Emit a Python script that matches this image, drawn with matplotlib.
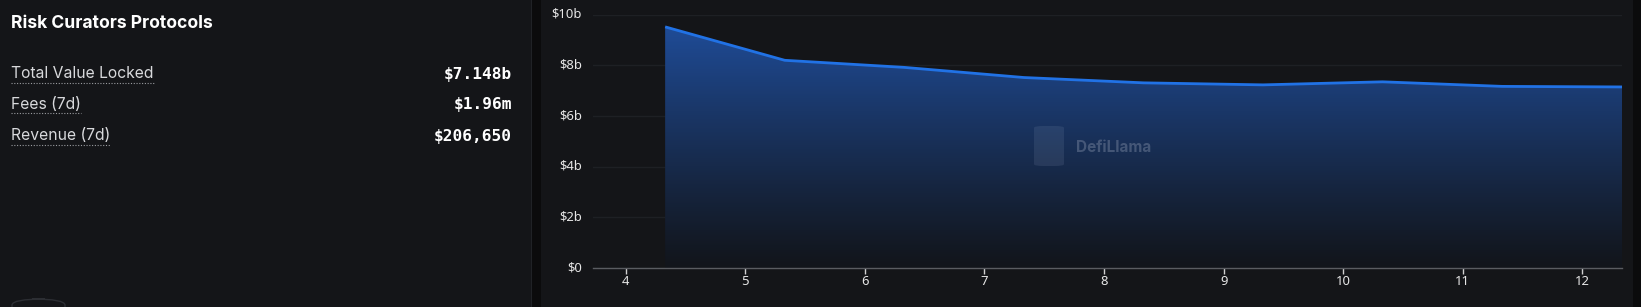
import numpy as np
import matplotlib.pyplot as plt
import matplotlib.transforms as mtransforms
from matplotlib.patches import FancyBboxPatch, Rectangle, Polygon
from matplotlib.ticker import FuncFormatter

# Data (TVL in billions)
days = [4.33, 5.33, 6.33, 7.33, 8.33, 9.33, 10.33, 11.33, 12.335]
tvl = [9.52, 8.20, 7.92, 7.52, 7.31, 7.23, 7.35, 7.17, 7.148]
x_ticks = [4, 5, 6, 7, 8, 9, 10, 11, 12]
y_ticks = [0, 2, 4, 6, 8, 10]

title = "Risk Curators Protocols"
stat_labels = ["Total Value Locked", "Fees (7d)", "Revenue (7d)"]
stat_values = ["$7.148b", "$1.96m", "$206,650"]

W, H = 1641, 307
BG = "#141518"
GAP = "#0b0b0c"
LINE = "#2172e5"

fig = plt.figure(figsize=(W / 100, H / 100), dpi=100)
fig.patch.set_facecolor(GAP)

# panel backgrounds (behind the axes)
for x0, x1, c in [(0, 532, BG), (541, 1633, BG), (531, 532, "#202226")]:
    fig.patches.append(Rectangle((x0 / W, 0), (x1 - x0) / W, 1, transform=fig.transFigure,
                                 facecolor=c, edgecolor="none", zorder=-2))
# button outline bottom-left
fig.patches.append(FancyBboxPatch((12 / W, -10 / H), 53 / W, 18 / H,
                                  boxstyle="round,pad=0,rounding_size=0.02",
                                  transform=fig.transFigure, facecolor="none",
                                  edgecolor="#2c2e33", linewidth=1, zorder=-1))

# left panel text
def fy(px):
    return 1 - px / H

fig.text(11 / W, fy(24), title, color="white", fontsize=12.6, fontweight="bold",
         family="Inter", va="center", ha="left")

label_y = [74, 105, 136]
for lab, val, yy in zip(stat_labels, stat_values, label_y):
    t = fig.text(11 / W, fy(yy), lab, color="#d8d9dc", fontsize=11.3,
                 family="Inter", va="center", ha="left")
    fig.text(512 / W, fy(yy), val, color="white", fontsize=11.6, fontweight="bold",
             family="DejaVu Sans Mono", va="center", ha="right")
    fig.canvas.draw()
    bb = t.get_window_extent()
    x0, x1 = bb.x0 / W, bb.x1 / W
    uy = bb.y0 / H - 1 / H
    fig.add_artist(plt.Line2D([x0, x1], [uy, uy], transform=fig.transFigure,
                              color="#9a9ca0", linewidth=0.8, linestyle=(0, (1, 1.5))))

# chart
ax = fig.add_axes([592.9 / W, 1 - 268 / H, (1622.4 - 592.9) / W, (268 - 14.7) / H])
ax.set_facecolor(BG)

for s in ["top", "right", "left"]:
    ax.spines[s].set_visible(False)
ax.spines["bottom"].set_color("#5a5c61")
ax.spines["bottom"].set_linewidth(1)

ax.set_yticks(y_ticks)
ax.yaxis.set_major_formatter(FuncFormatter(lambda v, p: "$0" if v == 0 else f"${v:g}b"))
ax.set_xticks(x_ticks)
ax.tick_params(axis="y", length=0, pad=8, labelcolor="#e6e6e6", labelsize=9.4)
ax.tick_params(axis="x", length=4, width=1, color="#d0d0d0", pad=1,
               labelcolor="#e6e6e6", labelsize=9.4)
shift = mtransforms.ScaledTranslation(0, 2 / 100, fig.dpi_scale_trans)
for lab in ax.get_yticklabels():
    lab.set_family("Noto Sans")
    lab.set_transform(lab.get_transform() + shift)
for lab in ax.get_xticklabels():
    lab.set_family("Noto Sans")
ax.grid(axis="y", color="#1e2024", linewidth=1)
ax.set_axisbelow(True)

# gradient fill under line
top_c = np.array([0x1f, 0x4c, 0x98]) / 255
bot_c = np.array([0x12, 0x15, 0x1b]) / 255
gy = np.linspace(0, 10, 256)
frac = np.clip(gy / 9.6, 0, 1) ** 1.1
img = bot_c[None, :] + (top_c - bot_c)[None, :] * frac[:, None]
img = img.reshape(256, 1, 3)
im = ax.imshow(img, extent=[days[0], days[-1], 0, 10], origin="lower",
               aspect="auto", zorder=1, interpolation="bilinear")
poly = Polygon(list(zip(days, tvl)) + [(days[-1], 0), (days[0], 0)],
               closed=True, facecolor="none", edgecolor="none")
ax.add_patch(poly)
im.set_clip_path(poly)
ax.plot(days, tvl, color=LINE, linewidth=2, zorder=3, solid_capstyle="butt")
ax.set_xlim(3.726, 12.335)
ax.set_ylim(0, 10)

# watermark
fig.add_artist(FancyBboxPatch((1034 / W, 1 - 166 / H), 30 / W, 40 / H,
                              boxstyle="round,pad=0,rounding_size=0.006",
                              transform=fig.transFigure, facecolor="#8a9bb8",
                              alpha=0.15, edgecolor="none", zorder=4))
fig.text(1076 / W, fy(147), "DefiLlama", color="#7d8aa3", alpha=0.45,
         fontsize=11, fontweight="bold", family="Inter", va="center", ha="left", zorder=4)

fig.savefig("out.png", dpi=100, facecolor=fig.get_facecolor())
